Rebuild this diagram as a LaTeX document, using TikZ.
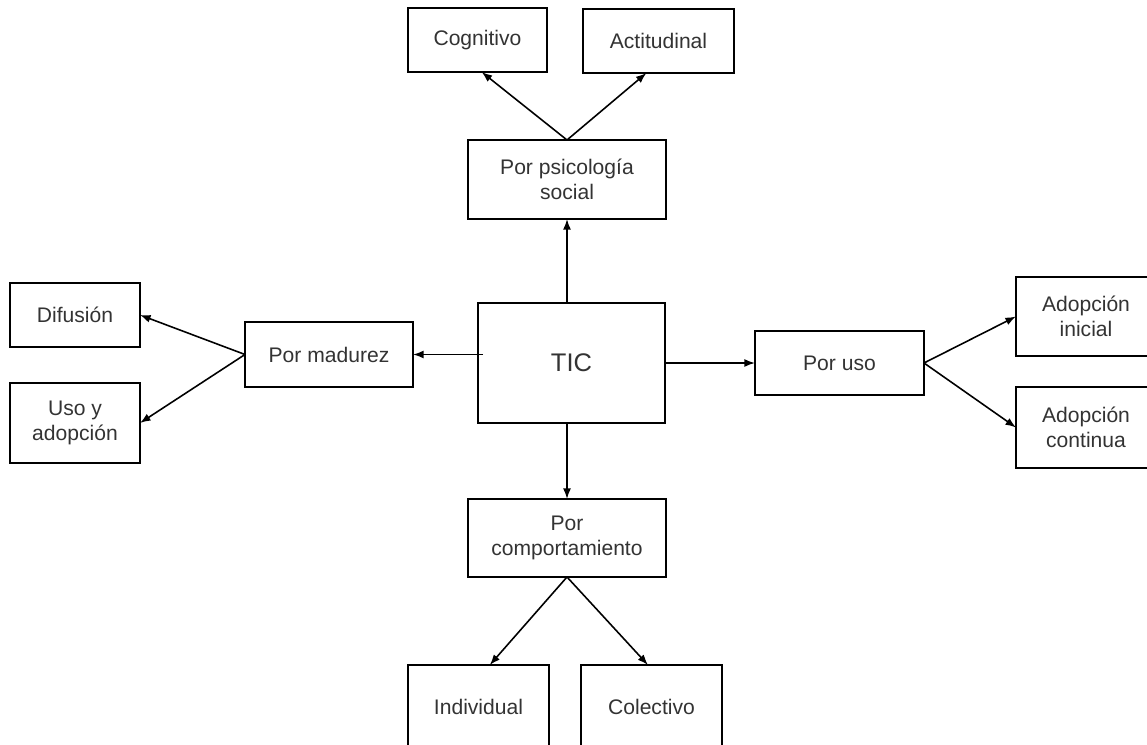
\documentclass[tikz,border=0pt]{standalone}
\usepackage{fontspec}
\setmainfont{Liberation Sans}
\usetikzlibrary{arrows.meta,calc}

\begin{document}
\begin{tikzpicture}[
  caja/.style={draw,line width=1pt,inner sep=2pt,outer sep=0pt,align=center,text=black!80,
    font=\fontsize{12}{14.5}\selectfont},
  flecha/.style={line width=0.9pt,-{Latex[length=6pt,width=4.5pt]}}]
\clip(0,0)rectangle(22.94,14.88);
% centro
\node[caja,minimum width=3.74cm,minimum height=2.40cm,font=\fontsize{14.5}{17}\selectfont](tic)at(11.43,7.62){TIC};
% ramas
\node[caja,minimum width=3.96cm,minimum height=1.58cm](psi)at(11.34,11.29){Por psicología\\social};
\node[caja,minimum width=3.36cm,minimum height=1.30cm](mad)at(6.58,7.79){Por madurez};
\node[caja,minimum width=3.38cm,minimum height=1.28cm](uso)at(16.79,7.62){Por uso};
\node[caja,minimum width=3.96cm,minimum height=1.56cm](com)at(11.34,4.12){Por\\comportamiento};
% hojas
\node[caja,minimum width=2.78cm,minimum height=1.28cm](cog)at(9.55,14.08){Cognitivo};
\node[caja,minimum width=3.02cm,minimum height=1.28cm](act)at(13.17,14.06){Actitudinal};
\node[caja,minimum width=2.60cm,minimum height=1.28cm](dif)at(1.50,8.58){Difusión};
\node[caja,minimum width=2.60cm,minimum height=1.60cm](usad)at(1.50,6.42){Uso y\\adopción};
\node[caja,minimum width=2.80cm,minimum height=1.58cm](ini)at(21.72,8.55){Adopción\\inicial};
\node[caja,minimum width=2.80cm,minimum height=1.62cm](con)at(21.72,6.33){Adopción\\continua};
\node[caja,minimum width=2.82cm,minimum height=1.68cm](ind)at(9.57,0.74){Individual};
\node[caja,minimum width=2.82cm,minimum height=1.68cm](col)at(13.03,0.74){Colectivo};
% flechas
\draw[flecha](psi.south|-tic.north)--(psi.south);
\draw[flecha]([xshift=0.1cm]tic.west|-mad.east)--(mad.east);
\draw[flecha](tic.east)--(uso.west);
\draw[flecha](com.north|-tic.south)--(com.north);
\draw[flecha](psi.north)--($(cog.south west)!0.53!(cog.south east)$);
\draw[flecha](psi.north)--($(act.south west)!0.42!(act.south east)$);
\draw[flecha](mad.west)--(dif.east);
\draw[flecha](mad.west)--(usad.east);
\draw[flecha](uso.east)--(ini.west);
\draw[flecha](uso.east)--(con.west);
\draw[flecha](com.south)--($(ind.north west)!0.58!(ind.north east)$);
\draw[flecha](com.south)--($(col.north west)!0.475!(col.north east)$);
\end{tikzpicture}
\end{document}
